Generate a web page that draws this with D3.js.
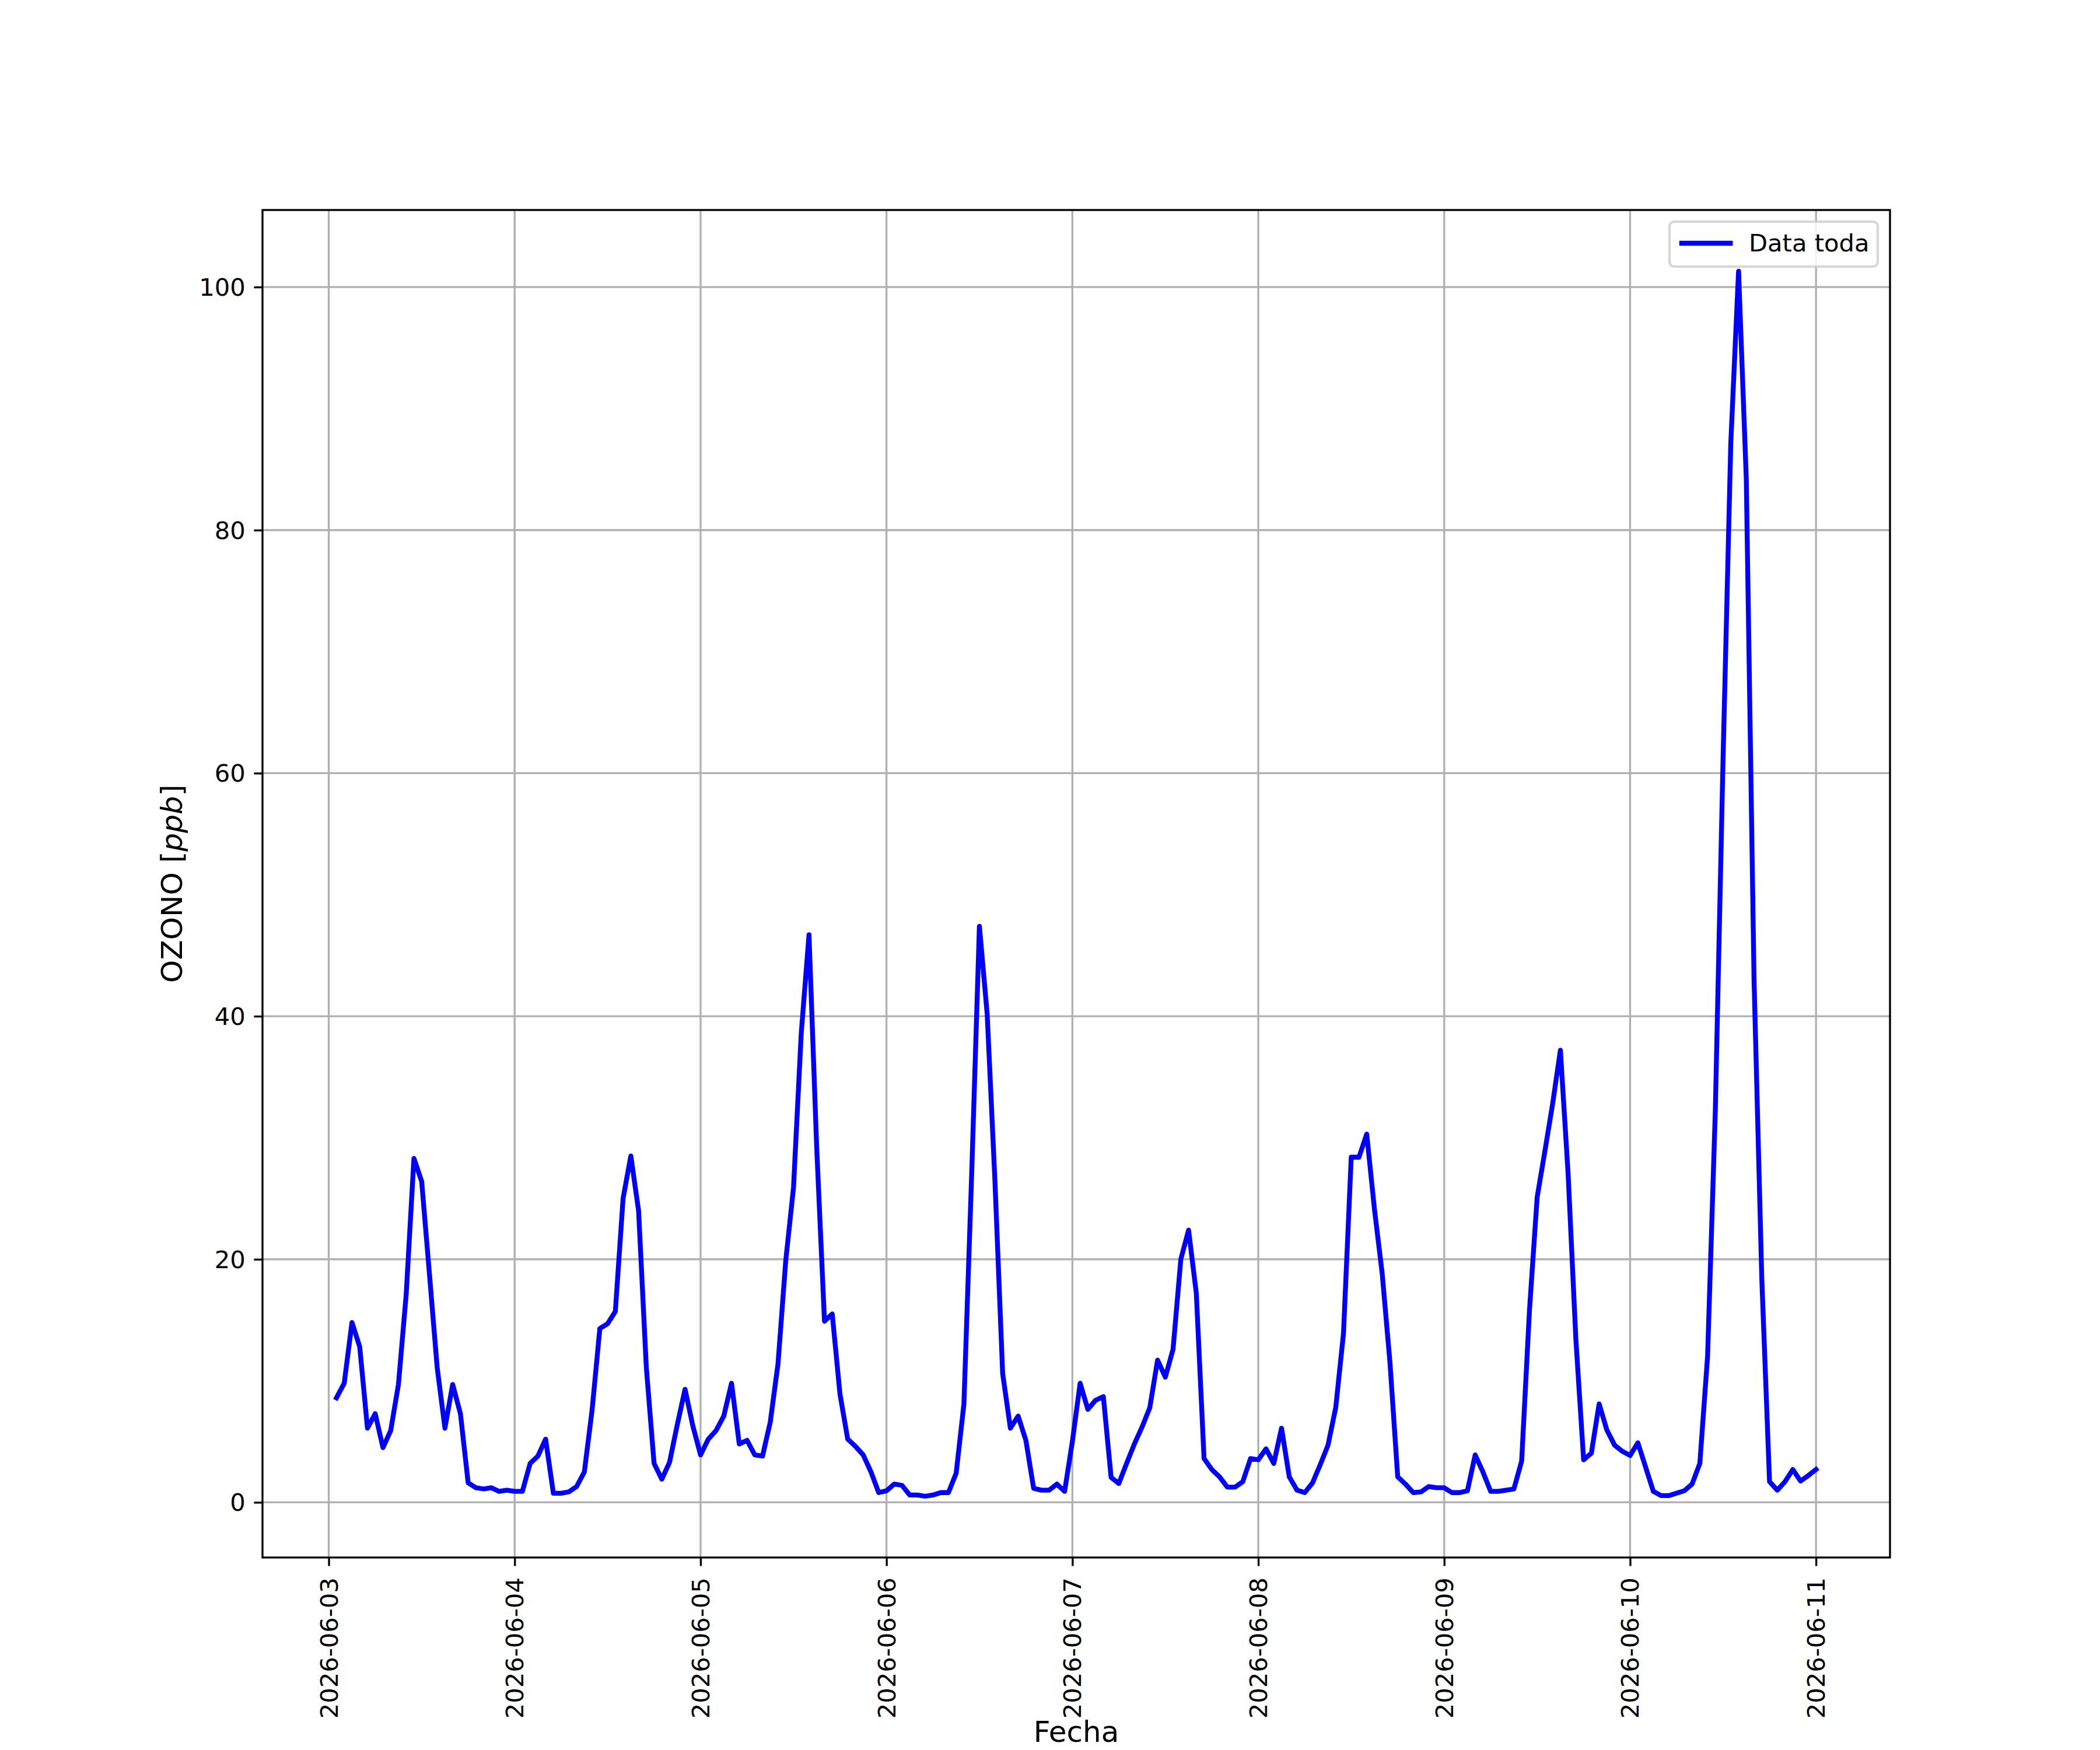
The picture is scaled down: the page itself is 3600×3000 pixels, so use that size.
<!doctype html>
<html lang="en">
  <head>
    <meta charset="utf-8">
    <title>OZONO por hora</title>
    <style>
      body {
        margin: 0;
        background: #fff;
      }

      svg {
        display: block;
        font-family: "DejaVu Sans", sans-serif;
      }
    </style>
  </head>
  <body>
    <svg id="chart" width="3600" height="3000"></svg>

    <script src="https://cdn.jsdelivr.net/npm/d3@7"></script>
    <script>
      // ozone [ppb], hours 01..24 of each day (hour 24 = next midnight)
      const ozone0603 = [8.6, 9.8, 14.8, 12.8, 6.1, 7.3, 4.5, 5.9, 9.7, 17.1, 28.3, 26.4, 18.8, 11.1, 6.1, 9.7, 7.3, 1.6, 1.2, 1.1, 1.2, 0.9, 1.0, 0.9]
      const ozone0604 = [0.9, 3.2, 3.8, 5.2, 0.75, 0.75, 0.86, 1.3, 2.5, 7.6, 14.3, 14.7, 15.7, 25.0, 28.5, 24.0, 11.1, 3.2, 1.9, 3.3, 6.4, 9.3, 6.3, 3.9]
      const ozone0605 = [5.2, 5.9, 7.1, 9.8, 4.8, 5.1, 3.9, 3.8, 6.6, 11.4, 19.9, 25.9, 38.6, 46.7, 29.1, 14.9, 15.5, 8.9, 5.2, 4.6, 3.9, 2.5, 0.8, 0.95]
      const ozone0606 = [1.5, 1.4, 0.6, 0.6, 0.5, 0.6, 0.8, 0.8, 2.4, 8.1, 27.0, 47.4, 40.2, 26.5, 10.6, 6.1, 7.1, 5.1, 1.15, 1.0, 1.0, 1.5, 0.9, 5.0]
      const ozone0607 = [9.8, 7.65, 8.4, 8.7, 2.05, 1.55, 3.2, 4.8, 6.2, 7.8, 11.7, 10.3, 12.6, 20.0, 22.4, 17.2, 3.6, 2.7, 2.1, 1.25, 1.25, 1.7, 3.6, 3.5]
      const ozone0608 = [4.4, 3.2, 6.1, 2.1, 1.0, 0.8, 1.6, 3.1, 4.7, 7.8, 13.9, 28.4, 28.4, 30.3, 24.1, 18.8, 11.5, 2.1, 1.5, 0.8, 0.85, 1.3, 1.2, 1.2]
      const ozone0609 = [0.8, 0.8, 0.95, 3.9, 2.5, 0.9, 0.9, 1.0, 1.1, 3.4, 15.7, 25.1, 28.9, 32.8, 37.2, 27.0, 13.4, 3.5, 4.05, 8.1, 5.95, 4.7, 4.2, 3.85]
      const ozone0610 = [4.9, 2.9, 0.9, 0.55, 0.55, 0.75, 0.95, 1.5, 3.2, 12.0, 32.2, 61.2, 87.2, 101.3, 84.2, 43.0, 18.4, 1.7, 1.0, 1.7, 2.7, 1.75, 2.2, 2.7]

      const dayStarts = ['2026-06-03', '2026-06-04', '2026-06-05', '2026-06-06', '2026-06-07', '2026-06-08', '2026-06-09', '2026-06-10']
      const dayValues = [ozone0603, ozone0604, ozone0605, ozone0606, ozone0607, ozone0608, ozone0609, ozone0610]

      const xTickLabels = ['2026-06-03', '2026-06-04', '2026-06-05', '2026-06-06', '2026-06-07', '2026-06-08', '2026-06-09', '2026-06-10', '2026-06-11']
      const yTicks = [0, 20, 40, 60, 80, 100]

      const seriesName = 'Data toda'
      const xLabel = 'Fecha'

      const pt = 300 / 72
      const box = { left: 450, right: 3240, top: 360, bottom: 2670 }
      const fontSize = 10 * pt
      const labelSize = 12 * pt
      const tickLen = 3.5 * pt
      const thin = 0.8 * pt

      const data = []
      dayValues.forEach((vals, d) => {
        const base = new Date(dayStarts[d] + 'T00:00:00Z')
        vals.forEach((v, h) => {
          data.push({ date: d3.utcHour.offset(base, h + 1), value: v })
        })
      })

      // matplotlib style 5% margins on both axes
      const [t0, t1] = d3.extent(data, d => d.date)
      const tPad = (t1 - t0) * 0.05
      const x = d3.scaleUtc()
        .domain([new Date(+t0 - tPad), new Date(+t1 + tPad)])
        .range([box.left, box.right])

      const [v0, v1] = d3.extent(data, d => d.value)
      const vPad = (v1 - v0) * 0.05
      const y = d3.scaleLinear()
        .domain([v0 - vPad, v1 + vPad])
        .range([box.bottom, box.top])

      const xTicks = xTickLabels.map(s => new Date(s + 'T00:00:00Z'))

      const svg = d3.select('#chart')

      svg.append('rect')
        .attr('width', 3600)
        .attr('height', 3000)
        .attr('fill', '#fff')

      svg.append('defs').append('clipPath')
        .attr('id', 'plot-area')
        .append('rect')
          .attr('x', box.left)
          .attr('y', box.top)
          .attr('width', box.right - box.left)
          .attr('height', box.bottom - box.top)

      // grid
      const grid = svg.append('g')
        .attr('stroke', '#b0b0b0')
        .attr('stroke-width', thin)

      grid.selectAll('.vgrid').data(xTicks)
        .enter()
          .append('line')
            .attr('x1', d => x(d))
            .attr('x2', d => x(d))
            .attr('y1', box.top)
            .attr('y2', box.bottom)

      grid.selectAll('.hgrid').data(yTicks)
        .enter()
          .append('line')
            .attr('x1', box.left)
            .attr('x2', box.right)
            .attr('y1', d => y(d))
            .attr('y2', d => y(d))

      // series
      const line = d3.line()
        .x(d => x(d.date))
        .y(d => y(d.value))

      svg.append('path')
        .datum(data)
        .attr('clip-path', 'url(#plot-area)')
        .attr('fill', 'none')
        .attr('stroke', '#0000ff')
        .attr('stroke-width', 2 * pt)
        .attr('stroke-linejoin', 'round')
        .attr('stroke-linecap', 'square')
        .attr('d', line)

      // spines
      svg.append('rect')
        .attr('x', box.left)
        .attr('y', box.top)
        .attr('width', box.right - box.left)
        .attr('height', box.bottom - box.top)
        .attr('fill', 'none')
        .attr('stroke', '#000')
        .attr('stroke-width', thin)

      // x axis
      const xAxis = d3.axisBottom(x)
        .tickValues(xTicks)
        .tickFormat(d3.utcFormat('%Y-%m-%d'))
        .tickSize(tickLen)

      const gx = svg.append('g')
        .attr('transform', `translate(0, ${box.bottom})`)
        .call(xAxis)

      gx.select('.domain').remove()
      gx.attr('font-size', fontSize).attr('font-family', '"DejaVu Sans", sans-serif')
      gx.selectAll('.tick line').attr('stroke', '#000').attr('stroke-width', thin)
      gx.selectAll('.tick text')
        .attr('y', null)
        .attr('dy', null)
        .attr('fill', '#000')
        .attr('text-anchor', 'end')
        .attr('dominant-baseline', 'central')
        .attr('transform', `translate(0, ${tickLen * 2 + 5}) rotate(-90)`)

      // y axis
      const yAxis = d3.axisLeft(y)
        .tickValues(yTicks)
        .tickFormat(d3.format('d'))
        .tickSize(tickLen)
        .tickPadding(tickLen)

      const gy = svg.append('g')
        .attr('transform', `translate(${box.left}, 0)`)
        .call(yAxis)

      gy.select('.domain').remove()
      gy.attr('font-size', fontSize).attr('font-family', '"DejaVu Sans", sans-serif')
      gy.selectAll('.tick line').attr('stroke', '#000').attr('stroke-width', thin)
      gy.selectAll('.tick text')
        .attr('dy', null)
        .attr('fill', '#000')
        .attr('dominant-baseline', 'central')

      // axis labels
      svg.append('text')
        .attr('x', (box.left + box.right) / 2)
        .attr('y', 2986)
        .attr('text-anchor', 'middle')
        .attr('font-size', labelSize)
        .text(xLabel)

      const yLabel = svg.append('text')
        .attr('transform', `translate(312, ${(box.top + box.bottom) / 2}) rotate(-90)`)
        .attr('text-anchor', 'middle')
        .attr('font-size', labelSize)
      yLabel.append('tspan').text('OZONO [')
      yLabel.append('tspan').attr('font-style', 'italic').text('ppb')
      yLabel.append('tspan').text(']')

      // legend
      const legend = svg.append('g')
        .attr('transform', 'translate(2862, 380)')

      legend.append('rect')
        .attr('width', 357)
        .attr('height', 77)
        .attr('rx', 8)
        .attr('fill', '#fff')
        .attr('fill-opacity', 0.8)
        .attr('stroke', '#cccccc')
        .attr('stroke-opacity', 0.8)
        .attr('stroke-width', 1 * pt)

      legend.append('line')
        .attr('x1', 17 + 4)
        .attr('x2', 17 + 4 + 2 * fontSize)
        .attr('y1', 37)
        .attr('y2', 37)
        .attr('stroke', '#0000ff')
        .attr('stroke-width', 2 * pt)
        .attr('stroke-linecap', 'square')

      legend.append('text')
        .attr('x', 136)
        .attr('y', 51)
        .attr('font-size', fontSize)
        .text(seriesName)
    </script>
  </body>
</html>
